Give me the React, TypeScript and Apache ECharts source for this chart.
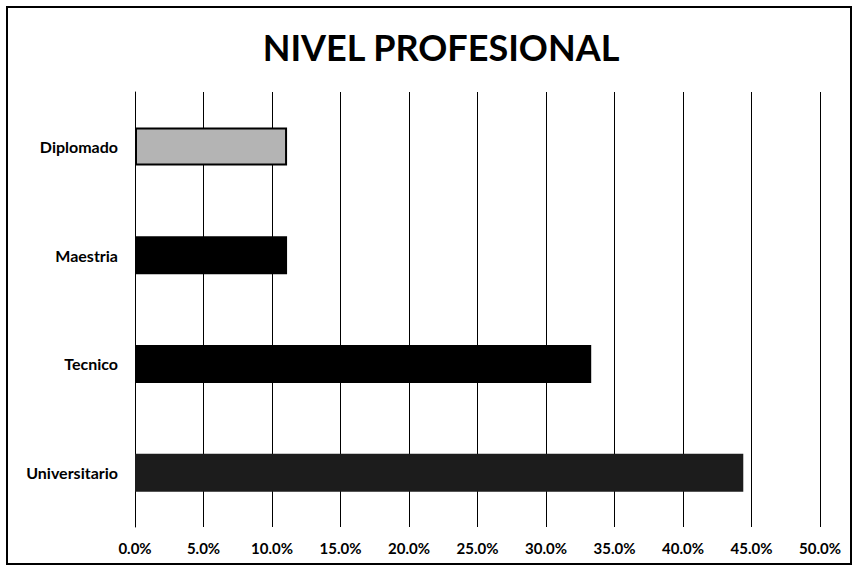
import React, { useEffect, useRef } from "react";
import * as echarts from "echarts";

const categories = ["Universitario", "Tecnico", "Maestria", "Diplomado"];
const values = [44.4, 33.3, 11.1, 11.1];
const barColors = ["#1c1c1c", "#000000", "#000000", "#b4b4b4"];
const xTicks = { min: 0, max: 50, interval: 5 };

export default function App() {
  const ref = useRef<HTMLDivElement>(null);
  useEffect(() => {
    document.body.style.margin = "0";
    const chart = echarts.init(ref.current!, null, { renderer: "svg" });
    chart.setOption({
      animation: false,
      backgroundColor: "#ffffff",
      title: {
        text: "NIVEL PROFESIONAL",
        left: 436,
        top: 24,
        textAlign: "center",
        textStyle: { fontFamily: "Lato", fontWeight: "bold", fontSize: 36, color: "#000" },
      },
      graphic: [
        {
          type: "rect",
          shape: { x: 7, y: 7, width: 844, height: 557 },
          style: { fill: "none", stroke: "#000", lineWidth: 2 },
          silent: true,
        },
      ],
      grid: { left: 135, right: 32, top: 92, bottom: 38 },
      xAxis: {
        type: "value",
        min: xTicks.min,
        max: xTicks.max,
        interval: xTicks.interval,
        axisLabel: {
          formatter: (v: number) => v.toFixed(1) + "%",
          fontFamily: "Lato",
          fontWeight: "bold",
          fontSize: 15,
          color: "#000",
          margin: 13,
        },
        axisLine: { show: false },
        axisTick: { show: false },
        splitLine: { show: true, lineStyle: { color: "#000", width: 1 } },
      },
      yAxis: {
        type: "category",
        data: categories,
        axisLabel: {
          fontFamily: "Lato",
          fontWeight: "bold",
          fontSize: 16,
          color: "#000",
          margin: 17,
        },
        axisLine: { show: true, lineStyle: { color: "#000", width: 1, type: "dashed" } },
        axisTick: { show: false },
      },
      series: [
        {
          type: "bar",
          data: values.map((v, i) => ({
            value: v,
            itemStyle: {
              color: barColors[i],
              borderColor: "#000",
              borderWidth: i === 3 ? 2 : 0,
            },
          })),
          barWidth: 38,
        },
      ],
    });
    return () => chart.dispose();
  }, []);
  return <div ref={ref} style={{ width: 852, height: 565 }} />;
}
